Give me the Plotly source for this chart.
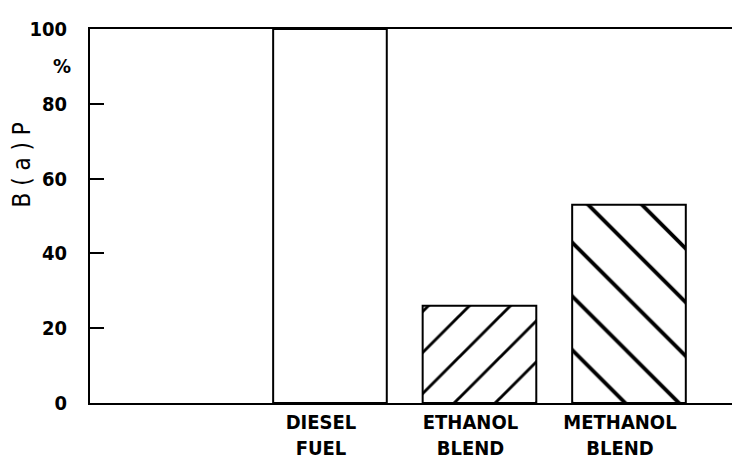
import plotly.graph_objects as go

categories = ["", "DIESEL<br>FUEL", "ETHANOL<br>BLEND", "METHANOL<br>BLEND"]
values = [None, 100, 26, 53]
patterns = ["", "", "/", "\\"]
pattern_sizes = [30, 30, 29, 38]
y_ticks = [0, 20, 40, 60, 80, 100]

FONT = "DejaVu Sans Condensed"

fig = go.Figure()
fig.add_trace(go.Bar(
    x=categories,
    y=values,
    marker=dict(
        color="white",
        line=dict(color="black", width=2),
        pattern=dict(shape=patterns, size=pattern_sizes, solidity=0.1,
                     fgcolor="black", bgcolor="white", fgopacity=1,
                     fillmode="replace"),
    ),
    width=0.76,
    showlegend=False,
    hoverinfo="skip",
))

fig.update_layout(
    width=732, height=466,
    margin=dict(l=90, r=0, t=29, b=63),
    paper_bgcolor="white", plot_bgcolor="white",
    font=dict(family=FONT, size=20, color="black"),
    xaxis=dict(
        type="category", automargin=False,
        categoryorder="array", categoryarray=categories,
        range=[-0.605, 3.689],
        showline=True, linecolor="black", linewidth=2, mirror=True,
        showgrid=False, ticks="", zeroline=False,
        tickfont=dict(family=FONT, size=20, weight="bold"),
        ticklabelstandoff=0, ticklabelshift=-9,
    ),
    yaxis=dict(
        range=[0, 100], automargin=False,
        tickvals=y_ticks,
        showline=True, linecolor="black", linewidth=2,
        showgrid=False, zeroline=False,
        ticks="inside", ticklen=14, tickwidth=2, tickcolor="black",
        tickfont=dict(family=FONT, size=20, weight="bold"),
        ticklabelstandoff=17,
    ),
)

fig.add_annotation(
    text="%", xref="paper", yref="y", x=0, y=90,
    xanchor="right", yanchor="middle", xshift=-17,
    showarrow=False, font=dict(family=FONT, size=20, weight="bold"),
)

fig.add_annotation(
    text="B ( a ) P", xref="paper", yref="y", x=0, y=63.5,
    xanchor="center", yanchor="middle", xshift=-68, textangle=-90,
    showarrow=False, font=dict(family=FONT, size=24),
)

fig.write_html("out.html", config={"displayModeBar": False},
               post_script="document.body.style.margin='0';")
